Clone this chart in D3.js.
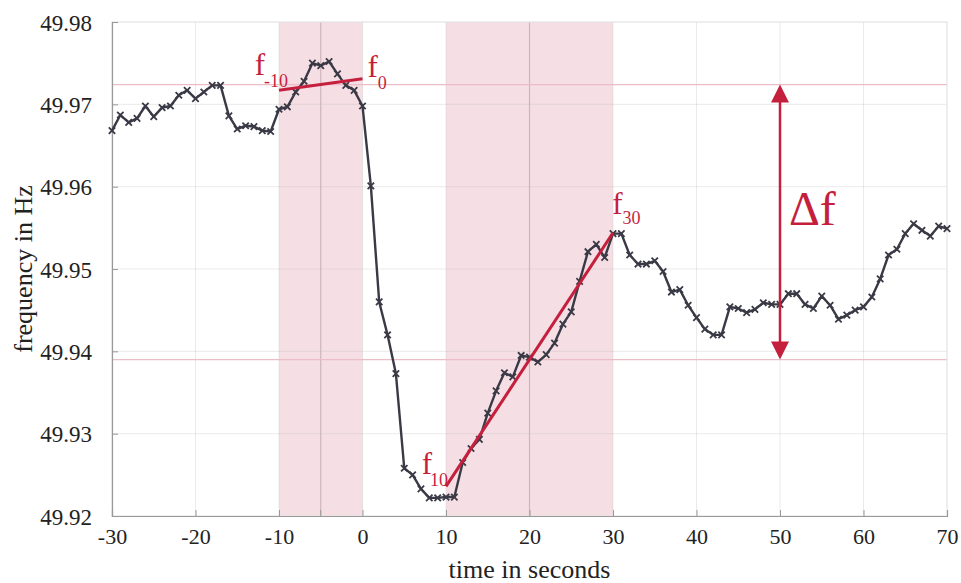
<!DOCTYPE html>
<html>
<head>
<meta charset="utf-8">
<script src="https://cdn.jsdelivr.net/npm/d3@7"></script>
<style>
  body { margin: 0; background: #fff; }
  svg text { font-family: "Liberation Serif", "DejaVu Serif", serif; }
</style>
</head>
<body>
<div id="chart"></div>
<script>
// sample times (s) and measured grid frequency (Hz)
var time = [-30,-29,-28,-27,-26,-25,-24,-23,-22,-21,-20,-19,-18,-17,-16,-15,-14,-13,-12,-11,
  -10,-9,-8,-7,-6,-5,-4,-3,-2,-1,0,1,2,3,4,5,6,7,8,9,10,11,12,13,14,15,16,17,18,19,20,
  21,22,23,24,25,26,27,28,29,30,31,32,33,34,35,36,37,38,39,40,41,42,43,44,45,46,47,48,49,50,
  51,52,53,54,55,56,57,58,59,60,61,62,63,64,65,66,67,68,69,70];
var freq = [49.9668,49.9687,49.9678,49.9683,49.9698,49.9685,49.9696,49.9698,49.9711,49.9717,
  49.9707,49.9715,49.9723,49.9723,49.9686,49.9670,49.9674,49.9673,49.9668,49.9667,
  49.9694,49.9697,49.9715,49.9728,49.9750,49.9747,49.9752,49.9737,49.9723,49.9717,
  49.9698,49.9601,49.9460,49.9420,49.9373,49.9258,49.9250,49.9233,49.9222,49.9222,
  49.9223,49.9223,49.9265,49.9282,49.9293,49.9325,49.9352,49.9374,49.9369,49.9395,
  49.9393,49.9387,49.9396,49.9410,49.9433,49.9448,49.9485,49.9521,49.9530,49.9514,
  49.9543,49.9543,49.9517,49.9506,49.9506,49.9510,49.9497,49.9472,49.9475,49.9456,
  49.9441,49.9427,49.9420,49.9420,49.9454,49.9452,49.9447,49.9451,49.9459,49.9457,
  49.9457,49.9470,49.9470,49.9457,49.9452,49.9467,49.9456,49.9439,49.9444,49.9450,
  49.9454,49.9466,49.9488,49.9517,49.9524,49.9543,49.9555,49.9547,49.9540,49.9552,49.9549];

var xTicks = [-30,-20,-10,0,10,20,30,40,50,60,70];
var yTicks = [49.92,49.93,49.94,49.95,49.96,49.97,49.98];

// averaging windows and their centre lines
var windows = [[-10, 0], [10, 30]];
var windowMid = [-5, 20];

// fitted lines: [t, f] endpoints
var fitBefore = [[-10, 49.9717], [0, 49.9731]];
var fitAfter = [[10, 49.9236], [30, 49.9544]];

// reference levels for delta f
var levelHigh = 49.9724;
var levelLow = 49.9390;
var arrowTime = 50;

var width = 961, height = 583;
var margin = {top: 22, right: 14, bottom: 67, left: 112};
var w = width - margin.left - margin.right;
var h = height - margin.top - margin.bottom;

var red = "#c51f3e";
var ink = "#3a3a46";
var serif = "'Liberation Serif', 'DejaVu Serif', serif";

var svg = d3.select("#chart").append("svg")
  .attr("width", width)
  .attr("height", height);

var g = svg.append("g")
  .attr("transform", "translate(" + margin.left + "," + margin.top + ")");

var x = d3.scaleLinear().domain([-30, 70]).range([0, w]);
var y = d3.scaleLinear().domain([49.92, 49.98]).range([h, 0]);

// shaded windows
g.selectAll("rect.win").data(windows)
  .enter().append("rect")
  .attr("class", "win")
  .attr("x", function(d) { return x(d[0]); })
  .attr("y", 0)
  .attr("width", function(d) { return x(d[1]) - x(d[0]); })
  .attr("height", h)
  .style("fill", "#f6dfe4");

// grid
g.selectAll("line.gx").data(xTicks)
  .enter().append("line")
  .attr("x1", function(d) { return x(d); })
  .attr("x2", function(d) { return x(d); })
  .attr("y1", 0).attr("y2", h)
  .style("stroke", "#bbb").style("stroke-opacity", 0.3).style("stroke-width", 1);
g.selectAll("line.gy").data(yTicks)
  .enter().append("line")
  .attr("x1", 0).attr("x2", w)
  .attr("y1", function(d) { return y(d); })
  .attr("y2", function(d) { return y(d); })
  .style("stroke", "#bbb").style("stroke-opacity", 0.3).style("stroke-width", 1);

g.selectAll("line.mid").data(windowMid)
  .enter().append("line")
  .attr("x1", function(d) { return x(d); })
  .attr("x2", function(d) { return x(d); })
  .attr("y1", 0).attr("y2", h)
  .style("stroke", "#cdb6bb").style("stroke-width", 1.2);

// delta f reference levels
g.selectAll("line.level").data([levelHigh, levelLow])
  .enter().append("line")
  .attr("x1", 0).attr("x2", w)
  .attr("y1", function(d) { return y(d); })
  .attr("y2", function(d) { return y(d); })
  .style("stroke", "#ebbdc6").style("stroke-width", 1.3);

// frame
g.append("rect")
  .attr("width", w).attr("height", h)
  .style("fill", "none").style("stroke", "#e8e8e8");

// axes
var fmtX = function(d) { return d < 0 ? "-" + Math.abs(d) : String(d); };
var xAxis = d3.axisBottom(x).tickValues(xTicks).tickSize(-6).tickPadding(12)
  .tickFormat(fmtX);
var yAxis = d3.axisLeft(y).tickValues(yTicks).tickSize(-6).tickPadding(20)
  .tickFormat(d3.format(".2f"));

var gx = g.append("g")
  .attr("transform", "translate(0," + h + ")")
  .call(xAxis);
g.append("line")
  .attr("x1", x(-5)).attr("x2", x(-5))
  .attr("y1", h).attr("y2", h - 6)
  .style("stroke", "#999");
var gy = g.append("g").call(yAxis);

[gx, gy].forEach(function(a) {
  a.attr("font-family", serif);
  a.select(".domain").style("stroke", "#999").style("stroke-width", 1.2);
  a.selectAll(".tick line").style("stroke", "#999");
  a.selectAll(".tick text").attr("fill", "#222").attr("font-family", serif);
});
gx.selectAll(".tick text").attr("font-size", 22);
gy.selectAll(".tick text").attr("font-size", 23).attr("dy", "0.36em");

// frequency trace
var pts = time.map(function(t, i) { return [t, freq[i]]; });
var line = d3.line()
  .x(function(d) { return x(d[0]); })
  .y(function(d) { return y(d[1]); });

g.append("path")
  .attr("d", line(pts))
  .style("fill", "none")
  .style("stroke", ink)
  .style("stroke-width", 2.4)
  .style("stroke-linejoin", "round");

var s = 3.2;
g.selectAll("path.mark").data(pts)
  .enter().append("path")
  .attr("d", function(d) {
    var cx = x(d[0]), cy = y(d[1]);
    return "M" + (cx - s) + "," + (cy - s) + "L" + (cx + s) + "," + (cy + s) +
      "M" + (cx - s) + "," + (cy + s) + "L" + (cx + s) + "," + (cy - s);
  })
  .style("stroke", ink)
  .style("stroke-width", 1.8);

// fitted lines
[fitBefore, fitAfter].forEach(function(f) {
  g.append("path")
    .attr("d", line(f))
    .style("stroke", red)
    .style("stroke-width", 3)
    .style("fill", "none");
});

// delta f arrow
var ax = x(arrowTime);
var head = 12;
g.append("line")
  .attr("x1", ax).attr("x2", ax)
  .attr("y1", y(levelHigh) + head).attr("y2", y(levelLow) - head)
  .style("stroke", red).style("stroke-width", 2.5);
g.append("path")
  .attr("d", "M" + ax + "," + y(levelHigh) + "l" + (-9) + "," + (head + 6) + "h18z")
  .style("fill", red);
g.append("path")
  .attr("d", "M" + ax + "," + y(levelLow) + "l" + (-9) + "," + (-head - 6) + "h18z")
  .style("fill", red);

g.append("text")
  .attr("x", ax + 9)
  .attr("y", y(49.9553))
  .attr("font-family", serif)
  .style("font-size", "48px")
  .style("fill", red)
  .text("\u0394f");

// f labels with subscripts
function fLabel(px, py, sub, dx, dy) {
  var t = g.append("text")
    .attr("x", px).attr("y", py)
    .attr("font-family", serif)
    .style("fill", red)
    .style("font-size", "31px");
  t.append("tspan").text("f");
  t.append("tspan")
    .attr("dx", dx).attr("dy", dy)
    .style("font-size", "18px")
    .text(sub);
}
fLabel(x(-12.9), y(49.9736), "-10", -1, 12);
fLabel(x(0.6), y(49.9733), "0", 0, 12);
fLabel(x(7.1), y(49.9251), "10", -2, 12);
fLabel(x(29.9), y(49.9567), "30", 0, 10);

// axis titles
svg.append("text")
  .attr("x", margin.left + w / 2)
  .attr("y", height - 5)
  .attr("text-anchor", "middle")
  .attr("font-family", serif)
  .style("font-size", "26px")
  .style("fill", "#222")
  .text("time in seconds");

svg.append("text")
  .attr("transform", "translate(32," + (margin.top + h / 2) + ") rotate(-90)")
  .attr("text-anchor", "middle")
  .attr("font-family", serif)
  .style("font-size", "26px")
  .style("fill", "#222")
  .text("frequency in Hz");
</script>
</body>
</html>
